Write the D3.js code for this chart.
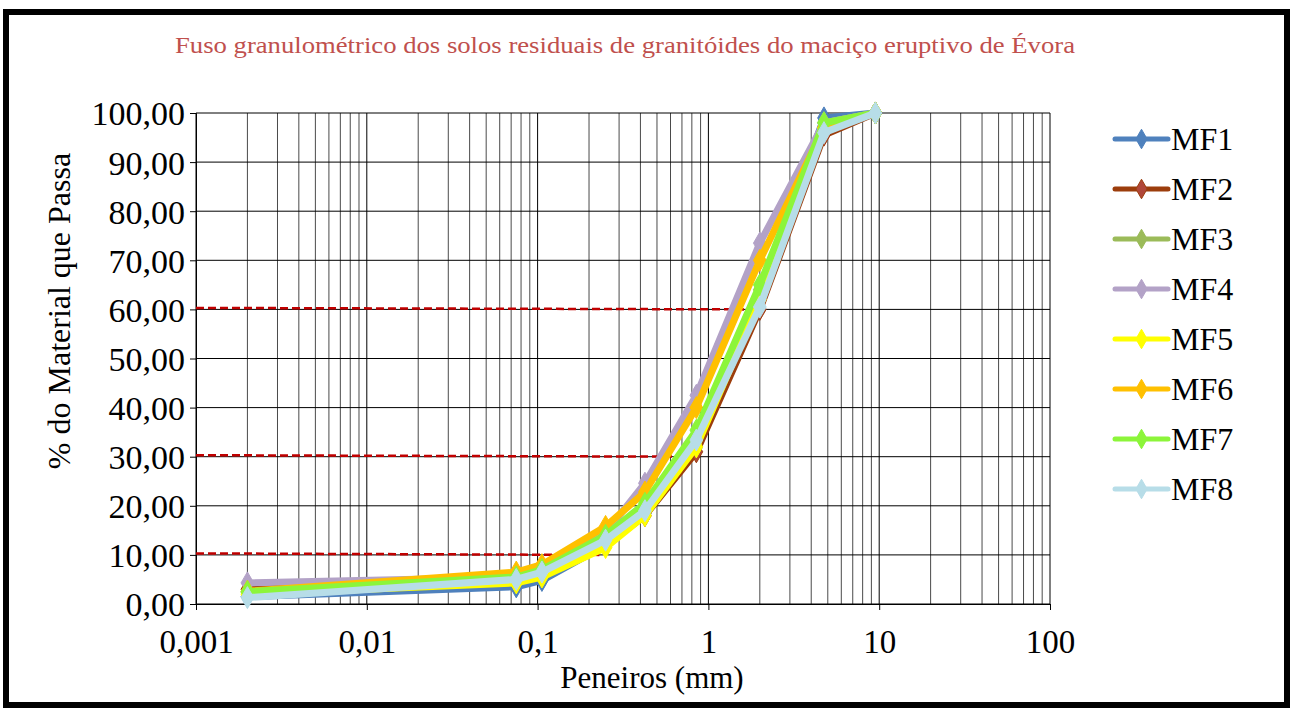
<!DOCTYPE html>
<html>
<head>
<meta charset="utf-8">
<script src="https://cdn.jsdelivr.net/npm/d3@7"></script>
<style>
body { margin: 0; background: #fff; }
text { font-family: "Liberation Serif", "Times New Roman", serif; }
</style>
</head>
<body>
<div id="chart"></div>
<script>
// sieve sizes (mm)
var sieves = [0.002, 0.075, 0.106, 0.25, 0.425, 0.85, 2, 4.75, 9.5];
var names = ["MF1", "MF2", "MF3", "MF4", "MF5", "MF6", "MF7", "MF8"];
var colors = ["#4f81bd", "#9c3d0c", "#9bbb59", "#b3a2c7", "#ffff00", "#ffc000", "#8cf53a", "#b7dde8"];
var MF1 = [1.5, 3.5, 4.8, 12.0, 18.5, 32.0, 63.0, 99.0, 100];
var MF2 = [3.0, 5.0, 6.5, 12.0, 18.0, 31.0, 60.0, 95.5, 100];
var MF3 = [2.4, 5.5, 7.0, 13.5, 20.0, 34.0, 64.0, 98.0, 100];
var MF4 = [4.3, 5.5, 7.5, 14.5, 24.6, 42.5, 73.5, 98.0, 100];
var MF5 = [2.0, 4.3, 5.5, 11.5, 18.0, 32.0, 62.0, 97.0, 100];
var MF6 = [2.6, 6.5, 8.0, 15.8, 22.8, 40.0, 70.0, 97.0, 100];
var MF7 = [2.5, 5.5, 7.0, 14.0, 20.5, 35.4, 65.0, 98.0, 100];
var MF8 = [1.3, 5.0, 6.5, 13.0, 19.0, 33.4, 60.5, 96.0, 100];
var seriesValues = [MF1, MF2, MF3, MF4, MF5, MF6, MF7, MF8];
var yTicks = [0, 10, 20, 30, 40, 50, 60, 70, 80, 90, 100];
var xTicks = [0.001, 0.01, 0.1, 1, 10, 100];
var xTickLabels = ["0,001", "0,01", "0,1", "1", "10", "100"];
// reference lines (D10, D30, D60) : level, diameter where they stop
var refLevels = [10, 30, 60];
var refEnds = [0.23, 0.88, 1.75];

var width = 1299, height = 711;
var plotLeft = 196, plotRight = 1050, plotTop = 113, plotBottom = 604;

var svg = d3.select("#chart").append("svg")
  .attr("width", width)
  .attr("height", height);

// outer frame
svg.append("rect")
  .attr("x", 6).attr("y", 12)
  .attr("width", 1281).attr("height", 693)
  .attr("fill", "#fff")
  .attr("stroke", "#000")
  .attr("stroke-width", 6);

var x = d3.scaleLog().domain([0.001, 100]).range([plotLeft, plotRight]);
var y = d3.scaleLinear().domain([0, 100]).range([plotBottom, plotTop]);

// minor vertical grid
var minor = [];
for (var e = -3; e < 2; e++) {
  for (var m = 2; m <= 9; m++) minor.push(m * Math.pow(10, e));
}
svg.append("g").selectAll("line").data(minor).enter().append("line")
  .attr("x1", d => x(d)).attr("x2", d => x(d))
  .attr("y1", plotTop).attr("y2", plotBottom)
  .attr("stroke", "#4a4a4a").attr("stroke-width", 1);

// major vertical grid
svg.append("g").selectAll("line").data(xTicks).enter().append("line")
  .attr("x1", d => x(d)).attr("x2", d => x(d))
  .attr("y1", plotTop).attr("y2", plotBottom)
  .attr("stroke", "#000").attr("stroke-width", 1);

// horizontal grid
svg.append("g").selectAll("line").data(yTicks).enter().append("line")
  .attr("x1", plotLeft).attr("x2", plotRight)
  .attr("y1", d => y(d)).attr("y2", d => y(d))
  .attr("stroke", "#000").attr("stroke-width", 1);

// axes
var yAxis = d3.axisLeft(y).tickValues(yTicks).tickSize(6)
  .tickFormat(d => d3.format(".2f")(d).replace(".", ","));
svg.append("g")
  .attr("transform", "translate(" + plotLeft + ",0)")
  .call(yAxis)
  .call(g => g.select(".domain").attr("stroke", "#000"))
  .call(g => g.selectAll("text")
    .attr("font-family", "Liberation Serif, Times New Roman, serif")
    .attr("font-size", 34).attr("fill", "#000").attr("x", -11).attr("dy", "0.35em"));

var xAxis = d3.axisBottom(x).tickValues(xTicks).tickSize(6)
  .tickFormat((d, i) => xTickLabels[i]);
svg.append("g")
  .attr("transform", "translate(0," + plotBottom + ")")
  .call(xAxis)
  .call(g => g.select(".domain").attr("stroke", "#000"))
  .call(g => g.selectAll("text")
    .attr("font-family", "Liberation Serif, Times New Roman, serif")
    .attr("font-size", 33).attr("fill", "#000").attr("y", 49).attr("dy", 0));

// reference dashed lines
svg.append("g").selectAll("line").data(refLevels).enter().append("line")
  .attr("x1", plotLeft).attr("x2", (d, i) => x(refEnds[i]))
  .attr("y1", d => y(d) - 1.5).attr("y2", d => y(d))
  .attr("stroke", "#c00000").attr("stroke-width", 2.5)
  .attr("stroke-dasharray", "8,4");

// series
var line = d3.line()
  .x((d, i) => x(sieves[i]))
  .y(d => y(d));
var diamond = d3.symbol().type(d3.symbolDiamond).size(140);

seriesValues.forEach(function (vals, k) {
  var g = svg.append("g");
  g.append("path")
    .datum(vals)
    .attr("d", line)
    .attr("fill", "none")
    .attr("stroke", colors[k])
    .attr("stroke-width", 7)
    .attr("stroke-linejoin", "round");
  g.selectAll("path.mk").data(vals).enter().append("path")
    .attr("class", "mk")
    .attr("d", diamond)
    .attr("transform", (d, i) => "translate(" + x(sieves[i]) + "," + y(d) + ")")
    .attr("fill", k == 1 ? "#b0473a" : colors[k])
    .attr("stroke", colors[k])
    .attr("stroke-width", 1);
});

// legend
var legend = svg.append("g").selectAll("g").data(names).enter().append("g")
  .attr("transform", (d, i) => "translate(1113," + (139 + i * 50) + ")");
legend.append("line")
  .attr("x1", 2).attr("x2", 55)
  .attr("stroke", (d, i) => colors[i])
  .attr("stroke-width", 5)
  .attr("stroke-linecap", "round");
legend.append("path")
  .attr("d", d3.symbol().type(d3.symbolDiamond).size(110))
  .attr("transform", "translate(28.5,0)")
  .attr("fill", (d, i) => i == 1 ? "#b0473a" : colors[i])
  .attr("stroke", (d, i) => colors[i]);
legend.append("text")
  .attr("x", 58).attr("y", 0).attr("dy", "0.35em")
  .attr("font-size", 32)
  .text(d => d);

// titles
svg.append("text")
  .attr("x", 625).attr("y", 53)
  .attr("text-anchor", "middle")
  .attr("font-size", 24)
  .attr("textLength", 900)
  .attr("lengthAdjust", "spacingAndGlyphs")
  .attr("fill", "#c0504d")
  .text("Fuso granulométrico dos solos residuais de granitóides do maciço eruptivo de Évora");

svg.append("text")
  .attr("x", 652).attr("y", 688)
  .attr("text-anchor", "middle")
  .attr("font-size", 31)
  .text("Peneiros (mm)");

svg.append("text")
  .attr("transform", "translate(70,311) rotate(-90)")
  .attr("text-anchor", "middle")
  .attr("font-size", 32)
  .text("% do Material que Passa");
</script>
</body>
</html>
